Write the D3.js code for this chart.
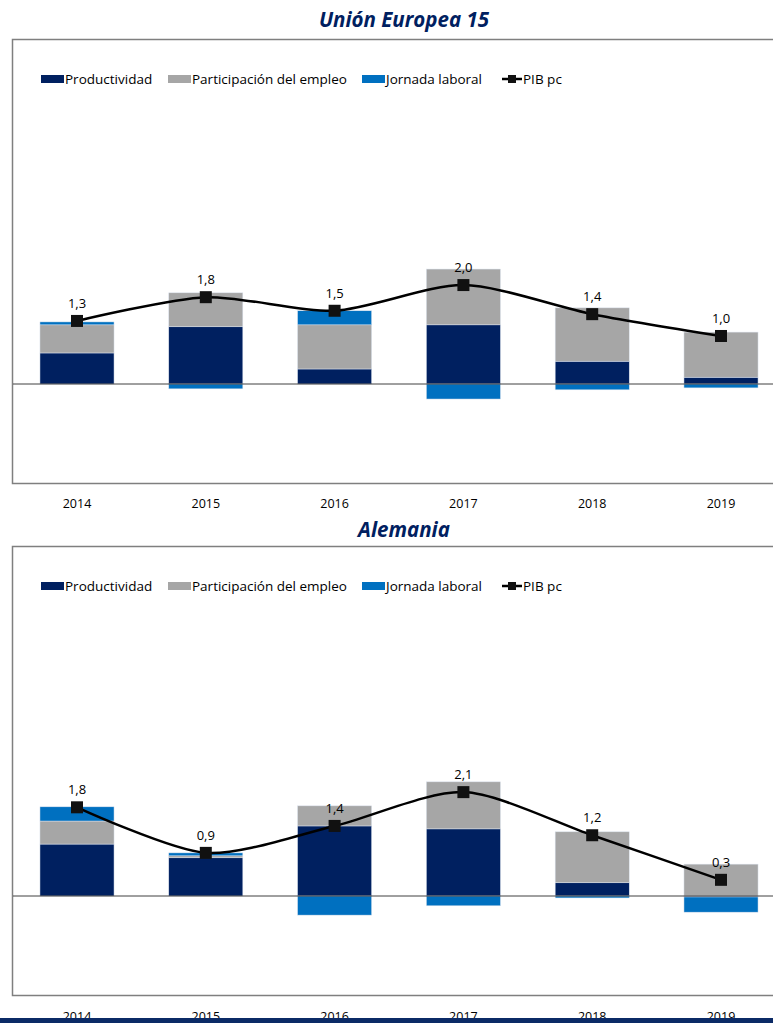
<!DOCTYPE html>
<html>
<head>
<meta charset="utf-8">
<script src="https://cdn.jsdelivr.net/npm/d3@7"></script>
<style>
  body { margin: 0; background: #fff; }
  svg { display: block; font-family: "Open Sans", "Noto Sans", sans-serif; }
</style>
</head>
<body>
<svg id="chart" width="773" height="1023"></svg>
<script>
// categories
var years = ["2014", "2015", "2016", "2017", "2018", "2019"];

// Unión Europea 15
var ue15Productividad = [0.64, 1.18, 0.31, 1.22, 0.47, 0.14];
var ue15Empleo = [0.58, 0.70, 0.91, 1.15, 1.10, 0.93];
var ue15Jornada = [0.06, -0.10, 0.29, -0.31, -0.12, -0.08];
var ue15Pib = [1.30, 1.79, 1.51, 2.04, 1.44, 0.99];

// Alemania
var deProductividad = [1.06, 0.78, 1.43, 1.37, 0.27, -0.02];
var deEmpleo = [0.47, 0.04, 0.41, 0.96, 1.04, 0.65];
var deJornada = [0.29, 0.06, -0.39, -0.20, -0.04, -0.31];
var dePib = [1.81, 0.88, 1.43, 2.12, 1.24, 0.33];

var seriesNames = ["Productividad", "Participación del empleo", "Jornada laboral", "PIB pc"];
var colors = ["#002060", "#a6a6a6", "#0070c0", "#000"];

var svg = d3.select("#chart");
var fmt = function (v) { return d3.format(".1f")(v).replace(".", ","); };

var x = d3.scaleBand().domain(years).range([12.6, 785.4]).paddingInner(0.425).paddingOuter(0.2125);

function drawPanel(cfg) {
    var g = svg.append("g");

    // title
    g.append("text")
        .attr("x", 404).attr("y", cfg.titleY)
        .attr("text-anchor", "middle")
        .attr("font-size", 20.5).attr("font-weight", "bold").attr("font-style", "italic")
        .attr("fill", "#002060")
        .text(cfg.title);

    // frame, right side runs off the page
    g.append("rect")
        .attr("x", 12.5).attr("y", cfg.frameTop + 0.5)
        .attr("width", 800).attr("height", cfg.frameBottom - cfg.frameTop)
        .attr("fill", "none").attr("stroke", "#7f7f7f").attr("stroke-width", 1.5);

    var y = d3.scaleLinear().domain([-2, 4])
        .range([cfg.zeroY + 2 * cfg.unit, cfg.zeroY - 4 * cfg.unit]);

    // stack positive up and negative down
    var data = years.map(function (yr, i) {
        var vals = [cfg.prod[i], cfg.emp[i], cfg.jor[i]];
        var pos = 0, neg = 0;
        return vals.map(function (v, k) {
            var y0, y1;
            if (v >= 0) { y0 = pos; y1 = pos + v; pos = y1; }
            else { y0 = neg; y1 = neg + v; neg = y1; }
            return { year: yr, k: k, y0: y0, y1: y1 };
        });
    });

    g.selectAll(".seg")
        .data(data.flat())
        .join("rect")
        .attr("x", function (d) { return x(d.year); })
        .attr("width", x.bandwidth())
        .attr("y", function (d) { return y(Math.max(d.y0, d.y1)); })
        .attr("height", function (d) { return Math.abs(y(d.y0) - y(d.y1)); })
        .attr("fill", function (d) { return colors[d.k]; })
        .attr("stroke", "#dce3ee").attr("stroke-width", 0.5);

    // zero line
    g.append("line")
        .attr("x1", 13).attr("x2", 773)
        .attr("y1", y(0)).attr("y2", y(0))
        .attr("stroke", "#404040").attr("stroke-width", 1);

    // PIB pc line
    var cx = function (i) { return x(years[i]) + x.bandwidth() / 2; };
    var line = d3.line()
        .x(function (d, i) { return cx(i); })
        .y(function (d) { return y(d); })
        .curve(d3.curveCardinal.tension(0.2));
    g.append("path")
        .attr("d", line(cfg.pib))
        .attr("fill", "none").attr("stroke", "#000").attr("stroke-width", 2.5);

    g.selectAll(".mk")
        .data(cfg.pib)
        .join("rect")
        .attr("x", function (d, i) { return cx(i) - 6; })
        .attr("y", function (d) { return y(d) - 6; })
        .attr("width", 12).attr("height", 12)
        .attr("fill", "#111");

    g.selectAll(".lbl")
        .data(cfg.pib)
        .join("text")
        .attr("x", function (d, i) { return cx(i); })
        .attr("y", function (d) { return y(d) - 13; })
        .attr("text-anchor", "middle")
        .attr("font-size", 13).attr("fill", "#000")
        .text(fmt);

    // year labels
    g.selectAll(".yr")
        .data(years)
        .join("text")
        .attr("x", function (d) { return x(d) + x.bandwidth() / 2; })
        .attr("y", cfg.yearY)
        .attr("text-anchor", "middle")
        .attr("font-size", 12.5).attr("fill", "#000")
        .text(function (d) { return d; });

    // legend
    var ly = cfg.frameTop + 40;
    var legendX = [41, 168, 362, 502];
    seriesNames.forEach(function (name, k) {
        var lx = legendX[k];
        if (k < 3) {
            g.append("rect").attr("x", lx).attr("y", ly - 4).attr("width", 23).attr("height", 8)
                .attr("fill", colors[k]);
        } else {
            g.append("line").attr("x1", lx).attr("x2", lx + 20).attr("y1", ly).attr("y2", ly)
                .attr("stroke", "#000").attr("stroke-width", 2.5);
            g.append("rect").attr("x", lx + 6).attr("y", ly - 4).attr("width", 8).attr("height", 8)
                .attr("fill", "#111");
        }
        g.append("text")
            .attr("x", lx + (k < 3 ? 24 : 21)).attr("y", ly + 5)
            .attr("font-size", 13.5).attr("fill", "#000")
            .text(name);
    });
}

drawPanel({
    title: "Unión Europea 15", titleY: 27,
    frameTop: 39, frameBottom: 483, zeroY: 384, unit: 48.5, yearY: 508,
    prod: ue15Productividad, emp: ue15Empleo, jor: ue15Jornada, pib: ue15Pib
});

drawPanel({
    title: "Alemania", titleY: 537,
    frameTop: 546, frameBottom: 995, zeroY: 896, unit: 49, yearY: 1021,
    prod: deProductividad, emp: deEmpleo, jor: deJornada, pib: dePib
});

// navy rule at the very bottom
svg.append("rect").attr("x", 0).attr("y", 1018).attr("width", 773).attr("height", 5).attr("fill", "#0b2a66");
</script>
</body>
</html>
